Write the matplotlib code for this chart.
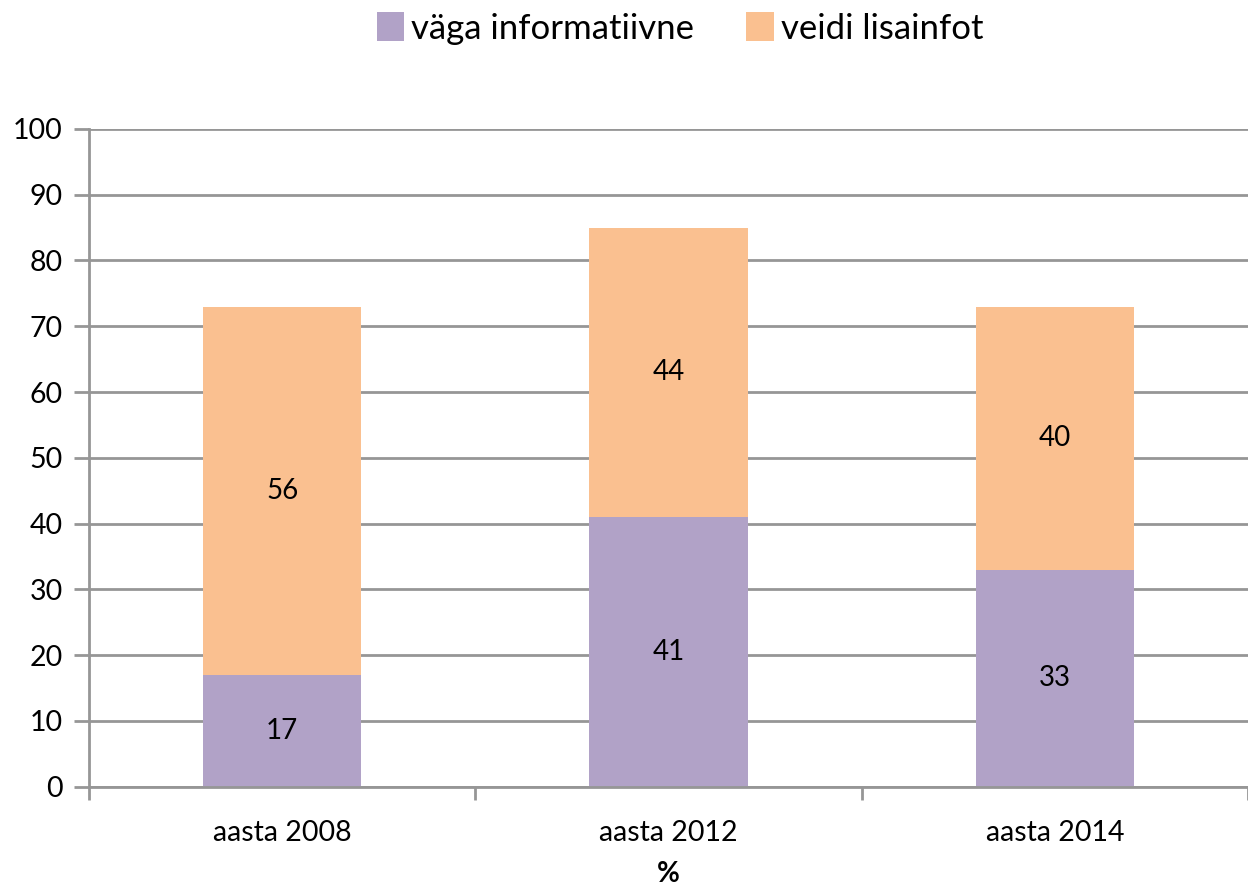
import matplotlib.pyplot as plt
import numpy as np

plt.rcParams['font.family'] = ['Lato', 'DejaVu Sans']

# andmed
aastad = ['aasta 2008', 'aasta 2012', 'aasta 2014']
vaga_info = [17, 41, 33]
veidi_info = [56, 44, 40]
seeriad = ['väga informatiivne', 'veidi lisainfot']
varvid = ['#B1A2C7', '#FAC090']
hall = '#969696'

fig = plt.figure(figsize=(12.48, 8.92), dpi=100)
ax = fig.add_axes([0.0713, 0.118, 0.9287, 0.7375])

x = np.arange(len(aastad))
laius = 0.41
b1 = ax.bar(x, vaga_info, laius, color=varvid[0], label=seeriad[0], zorder=2)
b2 = ax.bar(x, veidi_info, laius, bottom=vaga_info, color=varvid[1], label=seeriad[1], zorder=2)

# väärtused tulpade sisse
for i in range(len(x)):
    ax.text(x[i], vaga_info[i] / 2, str(vaga_info[i]), ha='center', va='center', fontsize=20)
    ax.text(x[i], vaga_info[i] + veidi_info[i] / 2, str(veidi_info[i]), ha='center', va='center', fontsize=20)

ax.set_xlim(-0.5, 2.5)
ax.set_ylim(0, 100)
ax.set_yticks(np.arange(0, 101, 10))
ax.yaxis.grid(True, color=hall, linewidth=2, zorder=0)
ax.set_axisbelow(True)

ax.set_xticks(x)
ax.set_xticklabels(aastad, fontsize=20.5)
ax.set_xticks([-0.5, 0.5, 1.5, 2.5], minor=True)
ax.tick_params(axis='x', which='major', length=0, pad=24)
ax.tick_params(axis='x', which='minor', length=9, width=2, color=hall)
ax.tick_params(axis='y', length=11, width=2, color=hall, labelsize=20.5, pad=8)

for s in ['top', 'right']:
    ax.spines[s].set_visible(False)
for s in ['left', 'bottom']:
    ax.spines[s].set_color(hall)
    ax.spines[s].set_linewidth(2)

ax.set_xlabel('%', fontsize=20, fontweight='bold', labelpad=11)

fig.legend(handles=[b1, b2], loc='center', bbox_to_anchor=(0.545, 0.968), ncol=2,
           frameon=False, fontsize=25, handlelength=0.8, handleheight=0.9,
           handletextpad=0.2, columnspacing=1.5)

fig.savefig('out.png', dpi=100)
